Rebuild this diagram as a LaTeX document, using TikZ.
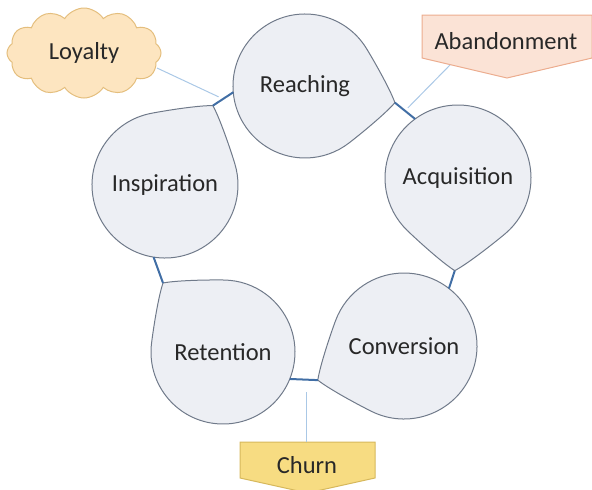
\documentclass[tikz,border=0pt]{standalone}
\usepackage{fontspec}
\setmainfont{Carlito}
\usetikzlibrary{calc,shapes.symbols}
\definecolor{dropfill}{RGB}{237,239,244}
\definecolor{dropborder}{RGB}{112,122,138}
\definecolor{linkcol}{RGB}{65,110,165}
\definecolor{callcol}{RGB}{170,200,230}
\definecolor{txt}{RGB}{40,40,40}
\definecolor{lyfill}{RGB}{253,229,192}
\definecolor{lyborder}{RGB}{228,190,125}
\definecolor{abfill}{RGB}{251,227,214}
\definecolor{abborder}{RGB}{236,172,142}
\definecolor{chfill}{RGB}{247,220,130}
\definecolor{chborder}{RGB}{214,184,92}
\tikzset{
  every node/.style={font=\fontsize{24.5}{29}\selectfont, text=txt},
  dropshape/.style={draw=dropborder, fill=dropfill, line width=1pt, line join=round},
  dropnode/.style={circle, draw=none, inner sep=0pt, outer sep=0pt},
  link/.style={draw=linkcol, line width=2pt},
  callline/.style={draw=callcol, line width=1pt},
  abshape/.style={draw=abborder, fill=abfill, line width=1pt},
  chshape/.style={draw=chborder, fill=chfill, line width=1pt},
  lyshape/.style={cloud, cloud puffs=12, cloud puff arc=115, aspect=1.75,
    draw=lyborder, fill=lyfill, line width=1pt, inner sep=0pt,
    minimum width=154pt, minimum height=90pt},
}
% teardrop: name, centre, radius, tip angle, text
\newcommand\tdrop[5]{%
  \coordinate (#1c) at (#2);
  \filldraw[dropshape] ($(#1c)+({#4+42}:#3pt)$)
    arc[start angle={#4+42}, delta angle=276, radius=#3pt]
    .. controls +({#4+48}:{0.2*#3pt}) and +({#4-120}:{0.2*#3pt}) .. ($(#1c)+({#4}:{1.27*#3pt})$) coordinate (#1tip)
    .. controls +({#4+120}:{0.2*#3pt}) and +({#4-48}:{0.2*#3pt}) .. ($(#1c)+({#4+42}:#3pt)$) -- cycle;
  \node[dropnode, minimum size={2*#3pt}] (#1) at (#1c) {#5};
}
\begin{document}
\begin{tikzpicture}[x=1pt,y=1pt]
\useasboundingbox (0,0) rectangle (592,-490);
% callout shapes
\node[lyshape] (loyal) at (84,-53) {Loyalty};
\filldraw[abshape] (422,-15) -- (592,-15) -- (592,-58) -- (507,-78) -- (422,-58) -- cycle;
\node (aband) at (506,-41) {Abandonment};
\filldraw[chshape] (240,-442) -- (375,-442) -- (375,-478) -- (307.5,-493) -- (240,-478) -- cycle;
\node (churn) at (307,-465) {Churn};
% drops
\tdrop{reach}{305,-86}{72}{-10.5}{Reaching}
\tdrop{acq}{458,-178}{73}{-92}{Acquisition}
\tdrop{conv}{404,-346}{73}{201.6}{Conversion}
\tdrop{ret}{223,-352}{72}{131}{Retention}
\tdrop{insp}{165,-185}{73}{58.9}{Inspiration}
% links
\draw[link] (reachtip) -- (acq.126) coordinate[midway] (mA);
\draw[link] (acqtip) -- (conv.52);
\draw[link] (convtip) -- (ret.338) coordinate[midway] (mC);
\draw[link] (rettip) -- (insp.261);
\draw[link] (insptip) -- (reach.185) coordinate[midway] (mE);
% callout lines
\coordinate (lyE) at (157,-68);
\coordinate (abE) at (450,-65);
\coordinate (chE) at (306,-442);
\draw[callline, shorten >=5pt] (lyE) -- (mE);
\draw[callline, shorten >=4pt] (abE) -- (mA);
\draw[callline, shorten >=12pt] (chE) -- (chE |- mC);
\end{tikzpicture}
\end{document}
